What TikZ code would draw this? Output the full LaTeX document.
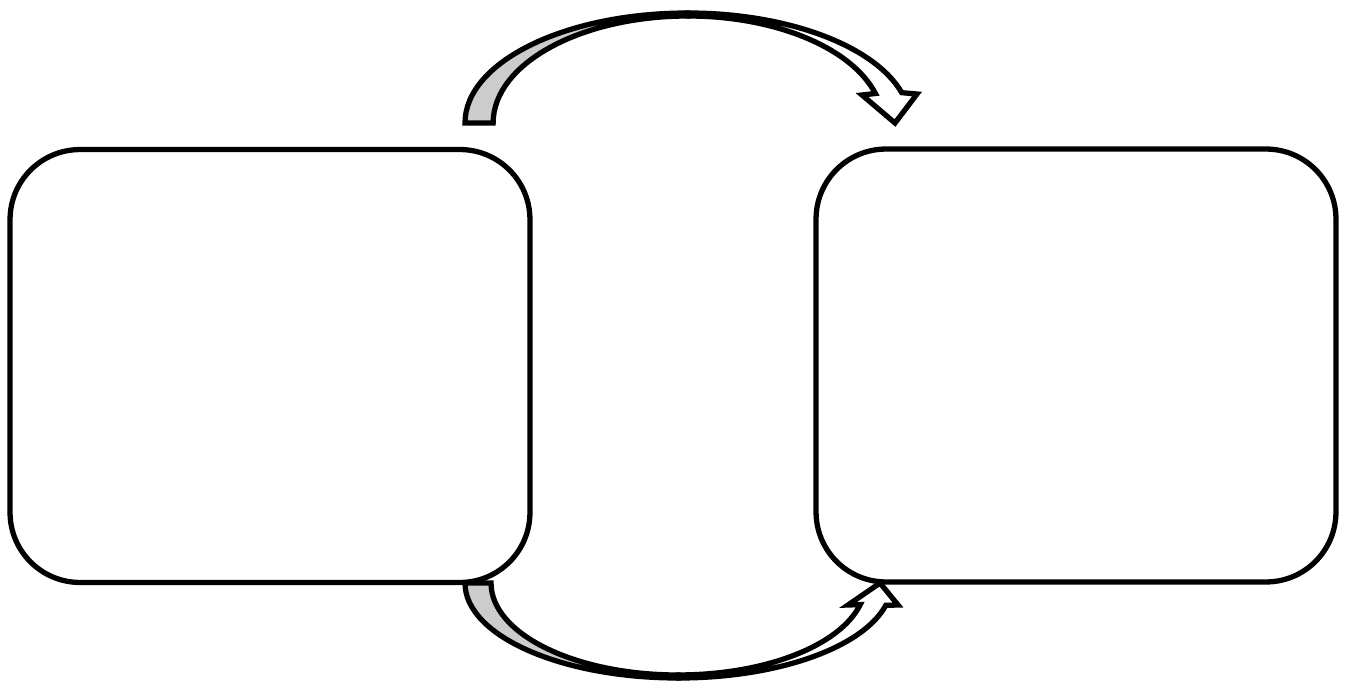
\documentclass[tikz,border=0pt]{standalone}
\usetikzlibrary{positioning}
\definecolor{cback}{HTML}{CCCCCC}
\tikzset{
  every picture/.style={line width=3pt, line join=miter},
  panel/.style={draw=black, fill=white, rounded corners=1.4cm, minimum width=10.4cm, minimum height=8.66cm, inner sep=0pt},
  band/.style={draw=black, fill=#1},
  band/.default=white,
}
\begin{document}
\begin{tikzpicture}[x=0.02cm, y=0.02cm,
  outer top/.style={x radius=4.454cm, y radius=2.2cm},
  inner top/.style={x radius=3.898cm, y radius=2.14cm},
  outer bot/.style={x radius=4.268cm, y radius=1.9cm},
  inner bot/.style={x radius=3.744cm, y radius=1.84cm}]
  \useasboundingbox (0,0) rectangle (1346,681);
  \node[panel] (source) at (270,315) {};
  \node[panel] (target) at (1076,315.5) {};
  % upper curved arrow
  \draw[band=cback] (465,558) arc[start angle=180, end angle=90, outer top] -- (688,665)
    arc[start angle=90, end angle=180, inner top] -- cycle;
  \draw[band] (687.7,668) arc[start angle=90, end angle=16, outer top] -- (917,587) -- (895,558)
    -- (862,586) -- (875.4,587.5) arc[start angle=16, end angle=90, inner top] -- cycle;
  % lower curved arrow
  \draw[band=cback] (465,98) arc[start angle=180, end angle=270, outer bot] -- (678.2,6)
    arc[start angle=270, end angle=180, inner bot] -- cycle;
  \draw[band] (678.4,3) arc[start angle=270, end angle=346.4, outer bot] -- (898,76) -- (880,98)
    -- (848,76) -- (860.2,76.4) arc[start angle=346.4, end angle=270, inner bot] -- cycle;
\end{tikzpicture}
\end{document}
